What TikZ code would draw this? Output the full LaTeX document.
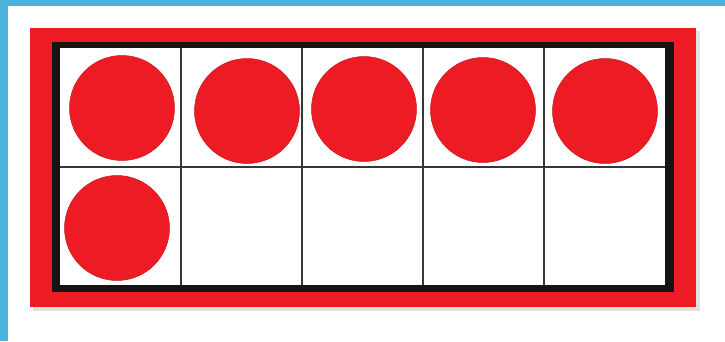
\documentclass[tikz,border=0pt]{standalone}
\usepackage{xcolor}
\definecolor{slideblue}{RGB}{75,180,218}
\definecolor{framered}{RGB}{237,28,36}
\definecolor{gridgray}{RGB}{55,55,55}
\usepackage{tikz}

\begin{document}
\begin{tikzpicture}[x=1pt, y=-1pt,
  counter/.style={circle, fill=framered, draw=framered!85!black, line width=0.5pt, minimum size=105pt, inner sep=0pt},
  gridline/.style={gridgray, line width=1.6pt}
]
  \useasboundingbox (0,0) rectangle (725,341);
  \fill[white] (0,0) rectangle (725,341);
  % slide border
  \fill[slideblue] (0,0) rectangle (725,6);
  \fill[slideblue] (0,0) rectangle (8,341);

  % ten frame
  \fill[black!12] (33,31) rectangle (700,311);
  \fill[framered] (30,28) rectangle (696,307);
  \fill[black!92] (52,42) rectangle (674,292);
  \fill[white] (60,48) rectangle (665,285);
  \foreach \x in {181,302,423,544}
    \draw[gridline] (\x,48) -- (\x,285);
  \draw[gridline] (60,167) -- (665,167);

  % counters
  \node[counter] (c1) at (122,108) {};
  \node[counter] (c2) at (247,111) {};
  \node[counter] (c3) at (364,109) {};
  \node[counter] (c4) at (483,110) {};
  \node[counter] (c5) at (605,111) {};
  \node[counter] (c6) at (117,228) {};
\end{tikzpicture}
\end{document}
